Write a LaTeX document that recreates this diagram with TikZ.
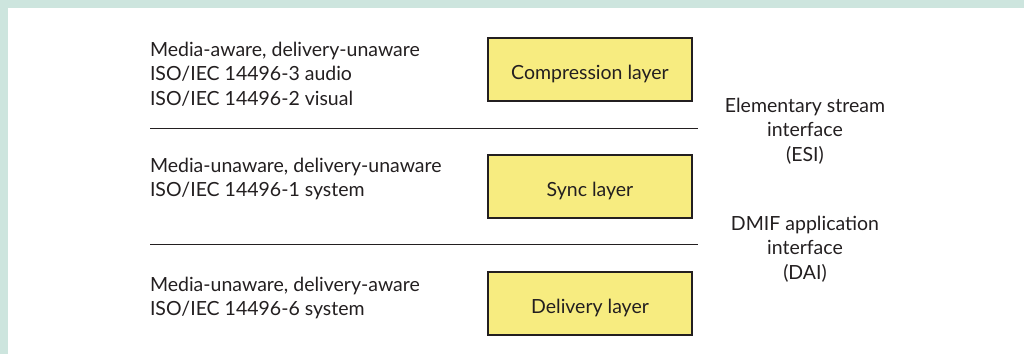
\documentclass[tikz,border=0pt]{standalone}
\usepackage{fontspec}
\setmainfont{Lato}
\definecolor{frame}{HTML}{CDE5DE}
\definecolor{boxfill}{HTML}{F7EC80}
\definecolor{ink}{HTML}{231F20}
\begin{document}
\begin{tikzpicture}[x=1pt,y=-1pt,
  every node/.style={inner sep=0pt,outer sep=0pt,text=ink,font=\fontsize{19.5}{24.5}\selectfont},
  layerbox/.style={draw=ink,line width=1.1pt,fill=boxfill,minimum width=204pt,minimum height=63pt,anchor=north west,text depth=0pt,text height=19pt},
  lefttext/.style={anchor=north west,align=left},
  righttext/.style={anchor=north,align=center},
  sep/.style={draw=ink,line width=1pt}]
\useasboundingbox (0,0) rectangle (1024,354);
\fill[white] (0,0) rectangle (1024,354);
\fill[frame] (0,0) rectangle (1024,8);
\fill[frame] (0,0) rectangle (8,354);
\node[layerbox] (comp) at (488,38) {Compression layer};
\node[layerbox] (sync) at (488,155) {Sync layer};
\node[layerbox] (deliv) at (488,272) {Delivery layer};
\node[lefttext] (t1) at (150,42) {Media-aware, delivery-unaware\\ISO/IEC 14496-3 audio\\ISO/IEC 14496-2 visual};
\node[lefttext] (t2) at (150,158) {Media-unaware, delivery-unaware\\ISO/IEC 14496-1 system};
\node[lefttext] (t3) at (150,277) {Media-unaware, delivery-aware\\ISO/IEC 14496-6 system};
\node[righttext] (esi) at (805,98) {Elementary stream\\interface\\(ESI)};
\node[righttext] (dai) at (805,216) {DMIF application\\interface\\(DAI)};
\coordinate (l1a) at (150,128);
\coordinate (l1b) at (698,128);
\coordinate (l2a) at (150,244);
\coordinate (l2b) at (698,244);
\draw[sep] (l1a) -- (l1b);
\draw[sep] (l2a) -- (l2b);
\end{tikzpicture}
\end{document}
